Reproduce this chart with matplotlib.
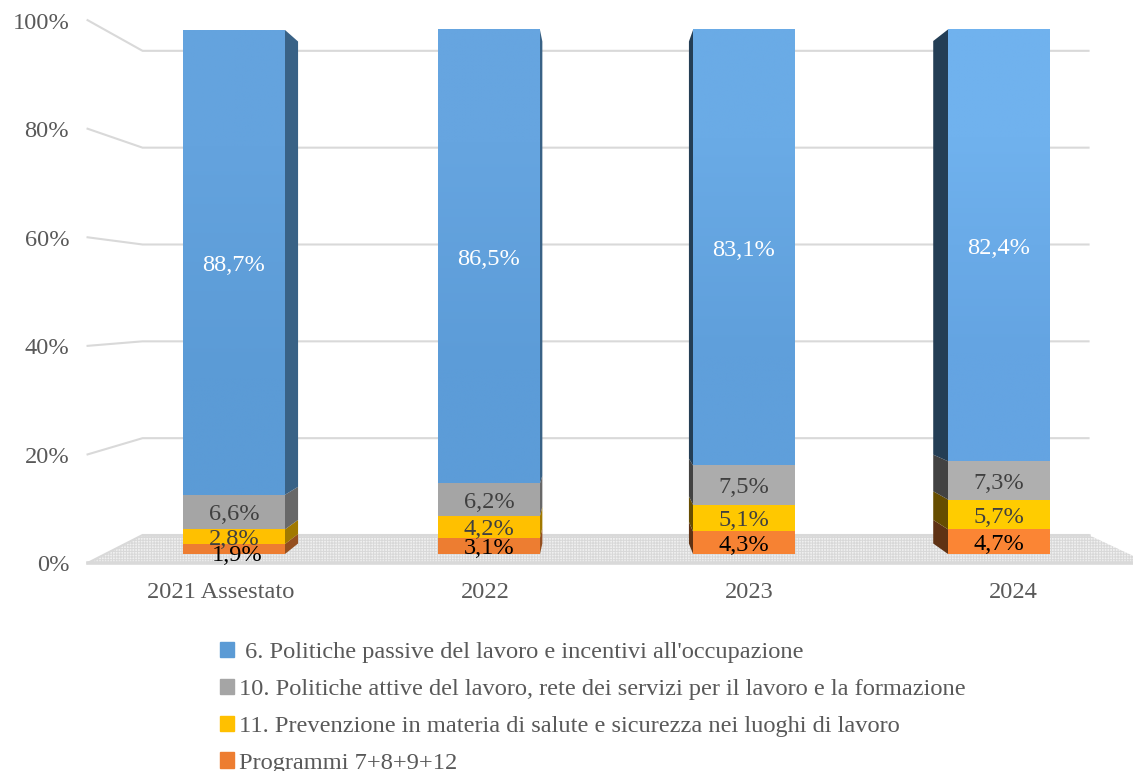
import numpy as np
import matplotlib
matplotlib.use("Agg")
import matplotlib.pyplot as plt
from matplotlib.colors import to_rgb
from matplotlib.patches import Polygon, Patch

plt.rcParams['font.family'] = ['Liberation Serif', 'DejaVu Serif']
plt.rcParams['hatch.linewidth'] = 0.7

categories = ["2021 Assestato", "2022", "2023", "2024"]
orange_vals = [1.9, 3.1, 4.3, 4.7]
yellow_vals = [2.8, 4.2, 5.1, 5.7]
gray_vals = [6.6, 6.2, 7.5, 7.3]
blue_vals = [88.7, 86.5, 83.1, 82.4]
y_ticks = [0, 20, 40, 60, 80, 100]

series_names = ["Programmi 7+8+9+12",
                "11. Prevenzione in materia di salute e sicurezza nei luoghi di lavoro",
                "10. Politiche attive del lavoro, rete dei servizi per il lavoro e la formazione",
                " 6. Politiche passive del lavoro e incentivi all'occupazione"]
series_colors = ["#ed7d31", "#ffc000", "#a5a5a5", "#5b9bd5"]
label_colors = ["black", "#404040", "#404040", "white"]

# fake 3d look of the original chart, everything goes towards one vanishing point
VX, VY = 1.42, 47.7
D_BAR, D_BACK, D_FRONT = 0.042, 0.076, -0.036
side_shade = [0.63, 0.63, 0.4, 0.4]
front_shade = [1.0, 1.0, 1.04, 1.06]
blue_top = ["#64a3de", "#66a5e0", "#6aabe6", "#70b2ee"]
blue_bottom = ["#5b9bd6", "#5c9cd8", "#5f9fdb", "#64a4e2"]
WIDTH = 0.4


def project(x, y, d):
    return VX + (x - VX) * (1 - d), VY + (y - VY) * (1 - d)


def shade(color, f):
    return tuple(min(1, c * f) for c in to_rgb(color))


fig = plt.figure(figsize=(11.33, 7.71), dpi=100)
ax = fig.add_axes([0, 0, 1, 1])
ax.set_xlim(-234 / 255, (1133 - 234) / 255)
ax.set_ylim(-(771 - 554) / 5.24, 100 + 30 / 5.24)
ax.axis("off")

GRID = "#d9d9d9"
x_left, x_right = -0.505, 3.51

# floor
floor = [project(x_left, 0, D_FRONT), project(x_left, 0, D_BACK),
         project(x_right, 0, D_BACK), project(x_right, 0, D_FRONT)]
ax.add_patch(Polygon(floor, closed=True, facecolor="#f0f0f0", edgecolor="#d8d8d8",
                     hatch="++++++", lw=0, zorder=1))
for d, lw in [(D_BACK, 1.8), (D_FRONT, 2.6)]:
    p0, p1 = project(x_left, 0, d), project(x_right, 0, d)
    ax.plot([p0[0], p1[0]], [p0[1], p1[1]], color=GRID, lw=lw, zorder=1.5)

# walls
for v in y_ticks:
    front = project(x_left, v, D_FRONT)
    back = project(x_left, v, D_BACK)
    end = project(x_right, v, D_BACK)
    ax.plot([front[0], back[0], end[0]], [front[1], back[1], end[1]],
            color=GRID, lw=1.5, zorder=1.5, solid_joinstyle="miter")
    ax.text(front[0] - 0.072, front[1] - 0.55, f"{v}%", ha="right", va="center",
            fontsize=17.6, color="#595959")

values = np.array([orange_vals, yellow_vals, gray_vals, blue_vals])
xs = np.arange(len(categories))
bottoms = np.zeros(len(categories))
for s, vals in enumerate(values):
    cols = [shade(series_colors[s], f) for f in front_shade]
    ax.bar(xs, vals, WIDTH, bottom=bottoms, color=cols, lw=0, zorder=4)
    for i, x in enumerate(xs):
        edge = x + WIDTH / 2 if x < VX else x - WIDTH / 2
        y0, y1 = bottoms[i], bottoms[i] + vals[i]
        pts = [(edge, y0), (edge, y1), project(edge, y1, D_BAR), project(edge, y0, D_BAR)]
        ax.add_patch(Polygon(pts, closed=True, lw=0, zorder=3,
                             facecolor=shade(series_colors[s], side_shade[i])))
        if s == 3:
            grad = np.array([[to_rgb(blue_top[i])], [to_rgb(blue_bottom[i])]])
            ax.imshow(grad, extent=(x - WIDTH / 2, x + WIDTH / 2, y0, y1), aspect="auto",
                      interpolation="bilinear", zorder=4.5)
        dx, dy = (0.012, -0.6) if (s == 0 and i == 0) else (0, 0)
        ax.text(x + dx, y0 + vals[i] / 2 + dy - 0.55, f"{vals[i]:.1f}%".replace(".", ","),
                ha="center", va="center", fontsize=17.6, color=label_colors[s], zorder=6)
    bottoms += vals

ax.set_xlim(-234 / 255, (1133 - 234) / 255)
ax.set_ylim(-(771 - 554) / 5.24, 100 + 30 / 5.24)

for x, name in zip(xs, categories):
    px = project(x, 0, D_FRONT)[0]
    ax.text(px, -7.4, name, ha="center", va="center", fontsize=17.6, color="#595959")

handles = [Patch(color=series_colors[s]) for s in [3, 2, 1, 0]]
labels = [series_names[s] for s in [3, 2, 1, 0]]
leg = ax.legend(handles, labels, loc="upper left", bbox_to_anchor=(220 / 1133, 1 - 642 / 771),
                frameon=False, fontsize=17.55, labelcolor="#595959", handlelength=0.58,
                handleheight=0.58, handletextpad=0.2, labelspacing=0.64,
                borderpad=0, borderaxespad=0)

fig.savefig("out.png", dpi=100)
